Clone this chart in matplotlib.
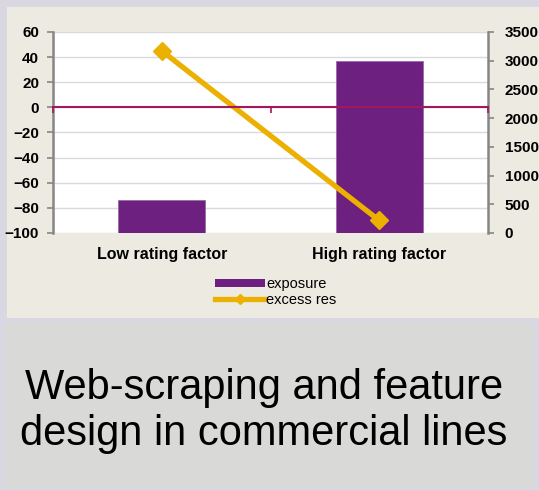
import matplotlib.pyplot as plt
from matplotlib.patches import Rectangle, Patch
from matplotlib.lines import Line2D

# chart data
categories = ["Low rating factor", "High rating factor"]
exposure = [575, 3000]          # right axis (bars)
excess_res = [45, -90]          # left axis (line)

left_ticks = list(range(-100, 61, 20))
right_ticks = list(range(0, 3501, 500))

purple = "#6E2080"
gold = "#EBB000"
magenta = "#A3175C"
W, H = 539, 490

plt.rcParams['font.family'] = ['Liberation Sans', 'DejaVu Sans']

fig = plt.figure(figsize=(W / 100, H / 100), dpi=100, facecolor="#D9D8E2")


def panel(x0, y0, x1, y1, color):
    fig.add_artist(Rectangle((x0 / W, 1 - y1 / H), (x1 - x0) / W, (y1 - y0) / H,
                             transform=fig.transFigure, facecolor=color,
                             edgecolor="none", zorder=0))


panel(7, 7, 560, 318, "#EDEBE1")
panel(5, 323, 534, 487, "#D9DAD7")

rect = [53 / W, 1 - 233 / H, 435 / W, 201 / H]

# left axis: grid + ticks + category labels
ax = fig.add_axes(rect)
ax.set_facecolor("white")
ax.set_xlim(-0.5, 1.5)
ax.set_ylim(-100, 60)
ax.set_yticks(left_ticks)
ax.grid(axis='y', color="#D9D9E0", lw=1)
ax.set_xticks(range(len(categories)))
ax.set_xticklabels(categories, fontsize=11.5, fontweight='bold')
ax.tick_params(axis='x', length=0, pad=10)
ax.tick_params(axis='y', labelsize=11, length=4, width=1.2, color="#868686", pad=6)
for lbl in ax.get_yticklabels():
    lbl.set_fontweight('bold')
for s in ['top', 'right', 'bottom']:
    ax.spines[s].set_visible(False)
ax.spines['left'].set_color("#868686")
ax.spines['left'].set_linewidth(1.8)

# right axis: exposure bars
ax2 = fig.add_axes(rect)
ax2.patch.set_visible(False)
ax2.set_xlim(ax.get_xlim())
ax2.set_ylim(0, 3500)
ax2.yaxis.tick_right()
ax2.set_yticks(right_ticks)
ax2.set_xticks([])
ax2.bar(range(len(categories)), exposure, width=0.4, color=purple,
        edgecolor="#9A6AA6", lw=0.6)
ax2.tick_params(axis='y', labelsize=11, length=4, width=1.2, color="#868686", pad=8)
for lbl in ax2.get_yticklabels():
    lbl.set_fontweight('bold')
for s in ['top', 'left', 'bottom']:
    ax2.spines[s].set_visible(False)
ax2.spines['right'].set_color("#868686")
ax2.spines['right'].set_linewidth(1.8)

# line axis on top, same left scale; category axis crosses at 0
ax3 = fig.add_axes(rect)
ax3.patch.set_visible(False)
ax3.set_xlim(ax.get_xlim())
ax3.set_ylim(ax.get_ylim())
ax3.set_yticks([])
ax3.plot(range(len(categories)), excess_res, color=gold, lw=3.8,
         marker='D', markersize=9.5, solid_capstyle='butt')
for s in ['top', 'left', 'right']:
    ax3.spines[s].set_visible(False)
ax3.spines['bottom'].set_position(('data', 0))
ax3.spines['bottom'].set_color(magenta)
ax3.spines['bottom'].set_linewidth(1.5)
ax3.set_xticks([-0.5, 0.5, 1.5])
ax3.set_xticklabels([])
ax3.tick_params(axis='x', length=4, width=1.2, color=magenta)

handles = [Patch(facecolor=purple, edgecolor="none"),
           Line2D([], [], color=gold, lw=3.8, marker='D', markersize=5)]
fig.legend(handles, ["exposure", "excess res"], loc='center',
           bbox_to_anchor=(276 / W, 1 - 292 / H), frameon=False, fontsize=10.5,
           handlelength=3.4, handletextpad=0.1, labelspacing=0.1,
           handleheight=0.5)

fig.text(264 / W, 1 - 411 / H, "Web-scraping and feature\ndesign in commercial lines",
         ha='center', va='center', fontsize=30, linespacing=1.22, color="black")

fig.savefig("out.png", dpi=100, facecolor=fig.get_facecolor())
